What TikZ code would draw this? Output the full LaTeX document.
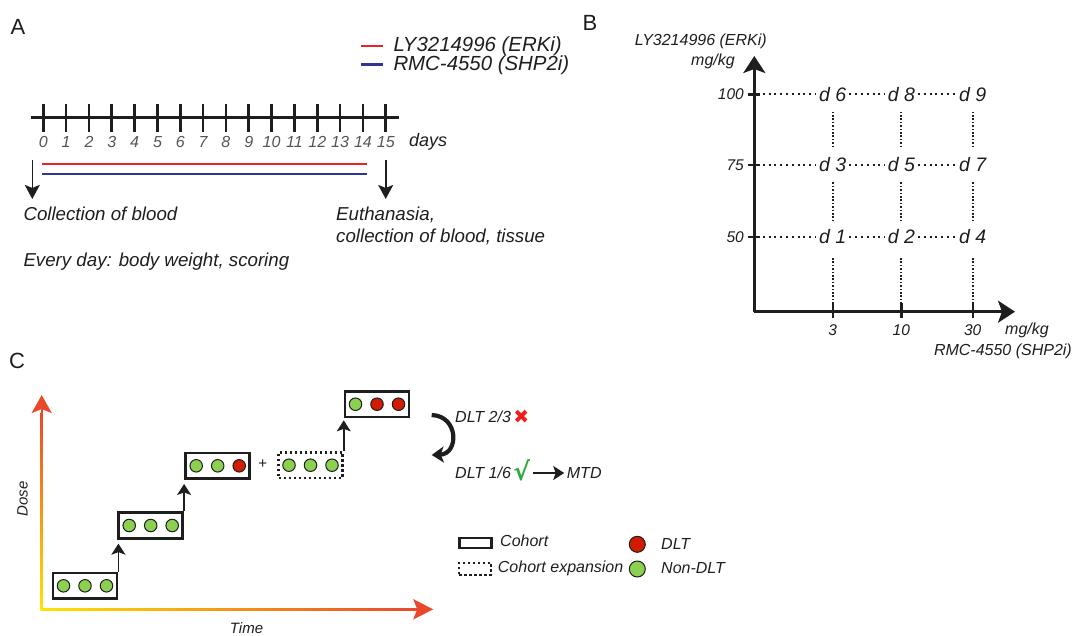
\documentclass[tikz,border=0pt]{standalone}
\usepackage{fontspec}
\setmainfont{Liberation Sans}
\newfontfamily\symfont{DejaVu Sans}
\usetikzlibrary{arrows.meta,positioning,calc}
\definecolor{erkred}{RGB}{236,32,40}
\definecolor{shpblue}{RGB}{48,52,150}
\definecolor{dltred}{RGB}{210,28,0}
\definecolor{okgreen}{RGB}{140,208,80}
\definecolor{doseyellow}{RGB}{255,228,0}
\definecolor{dosered}{RGB}{233,72,44}
\definecolor{tickgreen}{RGB}{46,170,62}
\definecolor{crossred}{RGB}{240,30,30}
\definecolor{daygray}{RGB}{85,85,85}
\definecolor{ink}{RGB}{30,30,30}

\begin{document}
\begin{tikzpicture}[x=1pt, y=-1pt, ink,
    panel/.style={font=\fontsize{22}{22}\selectfont, inner sep=0pt},
    it/.style={font=\fontsize{#1}{#1}\selectfont\itshape, inner sep=0pt},
    it/.default=18.7,
    downarrow/.style={-{Stealth[length=14pt,width=15pt,inset=3pt]}, line width=1.6pt, shorten >=8pt},
    axis/.style={-{Stealth[length=17pt,width=22pt,inset=4pt]}, line width=2.8pt},
    hdots/.style={line width=2pt, dash pattern=on 2pt off 3.8pt, shorten <=2pt, shorten >=2pt},
    vdots/.style={line width=2pt, dash pattern=on 1.6pt off 1.8pt, shorten <=9pt, shorten >=8pt},
    dose/.style={it=19.5, inner sep=1pt},
    cohort/.style={draw, line width=2.8pt, minimum width=64pt, minimum height=25.5pt, inner sep=0pt},
    expansion/.style={cohort, line width=2.5pt, dash pattern=on 2.5pt off 2.5pt},
    subj/.style={circle, draw, line width=1pt, minimum size=12.5pt, inner sep=0pt},
    subjok/.style={subj, fill=okgreen},
    subjdlt/.style={subj, fill=dltred},
    steparrow/.style={-{Stealth[length=11pt,width=14pt,inset=2.5pt]}, line width=1.5pt},
    looparrow/.style={-{Stealth[length=12pt,width=16pt,inset=3pt]}, line width=4.2pt}]
    \useasboundingbox (0,0) rectangle (1075,635);

    % A
    \node[panel] (labA) at (18,27) {A};
    \node[it=20.4, anchor=base west] (legerk) at (393.3,51.5) {LY3214996 (ERKi)};
    \node[it=20.4, anchor=base west] (legshp) at (393.3,70) {RMC-4550 (SHP2i)};
    \draw[erkred, line width=2.8pt] (361,46) -- (382.7,46);
    \draw[shpblue, line width=2.8pt] (361,64.3) -- (382.7,64.3);
    \draw[line width=2.6pt] (30.7,117.3) -- (399,117.3);
    \foreach \k in {0,...,15}{
      \draw[line width=2.6pt] (43.3+22.83*\k,103.5) -- (43.3+22.83*\k,131.5);
      \node[it=16, daygray, anchor=base] (day\k) at (43.3+22.83*\k,147.3) {\k};
    }
    \node[it=18, anchor=base west] (days) at (409,146) {days};
    \draw[erkred, line width=2.8pt] (42.3,164) -- (366.7,164);
    \draw[shpblue, line width=2.8pt] (42.3,174) -- (366.7,174);
    \node[it, anchor=base west] (coll) at (23.3,220.7) {Collection of blood};
    \node[it, anchor=base west] (daily) at (23.3,266.7) {Every day: body weight, scoring};
    \node[it, anchor=base west] (euth) at (336,220.7) {Euthanasia,};
    \node[it, anchor=base west] (euth2) at (336,242.7) {collection of blood, tissue};
    \coordinate (first) at (32.3,160);
    \coordinate (last) at (385.7,160);
    \draw[downarrow] (first) -- (first |- coll.north);
    \draw[downarrow] (last) -- (last |- euth.north);

    % B
    \node[panel] (labB) at (590,23) {B};
    \coordinate (orig) at (754.3,311.7);
    \draw[axis] (orig) -- (754.3,56);
    \draw[axis] (orig) -- (1015,311.7);
    \foreach \v/\y in {100/94.3, 75/165, 50/236.7}{
      \draw[line width=2.4pt] (748,\y) -- (760,\y);
      \coordinate (yt\v) at (754.3,\y);
      \node[it=15.5, anchor=east] (ylab\v) at (744,\y) {\v};
    }
    \foreach \v/\x in {3/832.7, 10/901.3, 30/972.7}{
      \draw[line width=2.4pt] (\x,303.3) -- (\x,318.3);
      \coordinate (xt\v) at (\x,311.7);
      \node[it=15.5] (xlab\v) at (\x,330) {\v};
    }
    \node[it=16] (ytitle) at (700.8,41.7) {LY3214996 (ERKi)};
    \node[it=16, anchor=east] (yunit) at (735,61.7) {mg/kg};
    \node[it=16, anchor=west] (xunit) at (1005,330) {mg/kg};
    \node[it=16, anchor=east] (xtitle) at (1072,351.7) {RMC-4550 (SHP2i)};
    \foreach \n/\x/\y in {1/832.7/236.7, 2/901.3/236.7, 4/972.7/236.7,
                          3/832.7/165, 5/901.3/165, 7/972.7/165,
                          6/832.7/94.3, 8/901.3/94.3, 9/972.7/94.3}
      \node[dose] (d\n) at (\x,\y) {d \n};
    \foreach \a/\b/\c/\r in {d6/d8/d9/100, d3/d5/d7/75, d1/d2/d4/50}{
      \draw[hdots, shorten <=8.5pt] (yt\r) -- (\a);
      \draw[hdots] (\a) -- (\b);
      \draw[hdots] (\b) -- (\c);
    }
    \foreach \t/\m/\b/\v in {d6/d3/d1/3, d8/d5/d2/10, d9/d7/d4/30}{
      \draw[vdots] (\t) -- (\m);
      \draw[vdots] (\m) -- (\b);
      \draw[vdots, shorten <=13pt, shorten >=0pt] (\b) -- (xt\v);
    }

    % C
    \node[panel] (labC) at (17,361) {C};
    \shade[bottom color=doseyellow, top color=dosered] (40.5,609.3) rectangle (42.9,412);
    \shade[left color=doseyellow, right color=dosered] (40.5,608.1) rectangle (415,610.5);
    \draw[dosered, -{Stealth[length=18pt,width=20pt,inset=4pt]}, line width=2.4pt] (41.7,414) -- (41.7,395);
    \draw[dosered, -{Stealth[length=20pt,width=20pt,inset=4pt]}, line width=2.4pt] (414,609.3) -- (433.3,609.3);
    \node[it=15, rotate=90] (dose) at (22.5,499) {Dose};
    \node[it=15] (time) at (246.5,628) {Time};

    \node[cohort] (c1) at (85,585.8) {};
    \node[cohort] (c2) at (150.7,525.5) {};
    \node[cohort] (c3) at (217.7,465.8) {};
    \node[expansion] (c4) at (310.5,465.2) {};
    \node[cohort] (c5) at (377,404.2) {};
    \foreach \b/\l/\m/\r in {c1/subjok/subjok/subjok, c2/subjok/subjok/subjok,
                             c3/subjok/subjok/subjdlt, c4/subjok/subjok/subjok,
                             c5/subjok/subjdlt/subjdlt}{
      \node[\l] (\b a) at ($(\b.center)+(-21.5,0)$) {};
      \node[\m] (\b b) at (\b.center) {};
      \node[\r] (\b c) at ($(\b.center)+(21.5,0)$) {};
    }
    \node[font=\fontsize{15}{15}\selectfont] (plus) at (262.7,464) {+};
    \draw[steparrow, shorten >=4pt] (c1.north east) -- (c1.north east |- c2.south);
    \draw[steparrow, shorten >=4pt] (c2.north east) -- (c2.north east |- c3.south);
    \draw[steparrow, shorten >=2pt] (c4.north east) -- (c4.north east |- c5.south);

    \coordinate (loopa) at (431.7,415);
    \coordinate (loopb) at (431.7,455);
    \draw[looparrow] (loopa) .. controls (459,416) and (459,454) .. (loopb);
    \node[it=16, anchor=base west] (dlt23) at (455,422) {DLT 2/3};
    \node[font=\symfont\fontsize{19}{19}\selectfont, crossred, anchor=base west, inner sep=0pt] (cross) at ([xshift=2pt,yshift=-1pt]dlt23.base east) {✖};
    \node[it=16, anchor=base west] (dlt16) at (455,478.5) {DLT 1/6};
    \node[font=\symfont\bfseries\fontsize{25}{25}\selectfont, tickgreen, anchor=base west, inner sep=0pt] (check) at ([xshift=2pt,yshift=-2pt]dlt16.base east) {√};
    \node[it=16, anchor=base west] (mtd) at (566.7,478.5) {MTD};
    \draw[steparrow, shorten <=3pt, shorten >=2.5pt] (check.east |- mtd.center) -- (mtd.west);

    \node[cohort, minimum width=32pt, minimum height=10.5pt, line width=2.4pt] (legcoh) at (475.3,543) {};
    \node[expansion, minimum width=32pt, minimum height=12pt, line width=2.2pt] (legexp) at (475.3,568.8) {};
    \node[it=16, anchor=base west] (legcohtxt) at (500,546.7) {Cohort};
    \node[it=16, anchor=base west] (legexptxt) at (497.7,572.7) {Cohort expansion};
    \node[subjdlt, minimum size=16pt] (legdlt) at (637.3,544.3) {};
    \node[subjok, minimum size=16pt] (legok) at (637.3,569) {};
    \node[it=16, anchor=base west] (legdlttxt) at (661,549.3) {DLT};
    \node[it=16, anchor=base west] (legoktxt) at (661,573.3) {Non-DLT};
\end{tikzpicture}
\end{document}
